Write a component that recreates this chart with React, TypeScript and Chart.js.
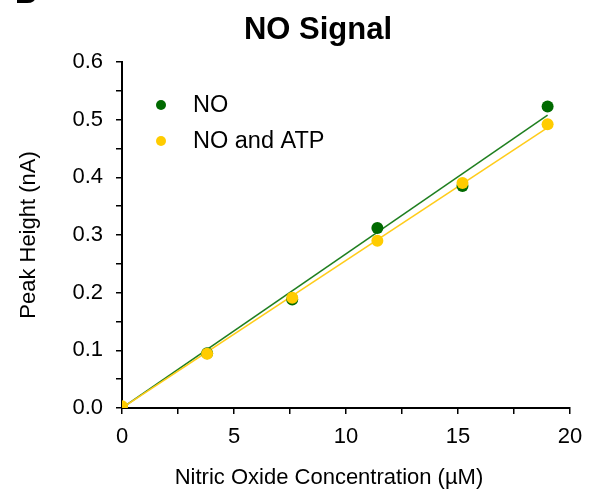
import React, { useEffect, useRef } from "react";
import { Chart, registerables } from "chart.js";

Chart.register(...registerables);

// ---- data ----
const concentrations = [0, 3.8, 7.6, 11.4, 15.2, 19];
const noPeak = [0.0, 0.095, 0.188, 0.312, 0.385, 0.523];
const noAtpPeak = [0.003, 0.094, 0.191, 0.29, 0.39, 0.492];
const fitRange = [0, 19];
const noFit = [0.0, 0.508];
const noAtpFit = [0.0, 0.486];
const seriesLabels = ["NO", "NO and ATP"];
const seriesColors = ["#006a00", "#ffcc00"];
const fitColors = ["#1f7f1f", "#ffcc1a"];
const chartTitle = "NO Signal";
const panelLetter = "B";
const xTitle = "Nitric Oxide Concentration (\u00B5M)";
const yTitle = "Peak Height (nA)";

const FONT = "'Liberation Sans', Arial, Helvetica, sans-serif";

const toPoints = (xs: number[], ys: number[]) => xs.map((x, i) => ({ x, y: ys[i] }));

const overlayPlugin = {
  id: "overlay",
  afterDraw(chart: any) {
    const ctx = chart.ctx;
    ctx.save();
    ctx.fillStyle = "#000";
    ctx.textBaseline = "alphabetic";
    ctx.textAlign = "left";
    ctx.font = `bold 30px ${FONT}`;
    ctx.fillText(panelLetter, 15, 3);
    ctx.textAlign = "center";
    ctx.font = `bold 31px ${FONT}`;
    ctx.fillText(chartTitle, 318, 39);
    // x axis title
    ctx.font = `22px ${FONT}`;
    ctx.textBaseline = "middle";
    ctx.fillText(xTitle, 329, 478);
    // legend inside plot
    const xs = chart.scales.x;
    const ys = chart.scales.y;
    const lx = xs.left + 39;
    const ly0 = ys.top + 43;
    seriesLabels.forEach((lab, i) => {
      const y = ly0 + i * 36;
      ctx.beginPath();
      ctx.fillStyle = seriesColors[i];
      ctx.arc(lx, y, 5, 0, Math.PI * 2);
      ctx.fill();
      ctx.fillStyle = "#000";
      ctx.font = `23.5px ${FONT}`;
      ctx.textAlign = "left";
      ctx.textBaseline = "middle";
      ctx.fillText(lab, lx + 32, y + 1);
    });
    ctx.restore();
  },
};

export default function App() {
  const ref = useRef<HTMLCanvasElement | null>(null);
  useEffect(() => {
    document.body.style.margin = "0";
    const canvas = ref.current;
    if (!canvas) return;
    const chart = new Chart(canvas, {
      type: "scatter",
      data: {
        datasets: [
          {
            label: seriesLabels[0] + " fit",
            data: toPoints(fitRange, noFit),
            showLine: true,
            borderColor: fitColors[0],
            borderWidth: 1.5,
            pointRadius: 0,
            order: 3,
          },
          {
            label: seriesLabels[1] + " fit",
            data: toPoints(fitRange, noAtpFit),
            showLine: true,
            borderColor: fitColors[1],
            borderWidth: 1.5,
            pointRadius: 0,
            order: 2,
          },
          {
            label: seriesLabels[0],
            data: toPoints(concentrations, noPeak),
            backgroundColor: seriesColors[0],
            borderColor: seriesColors[0],
            borderWidth: 0,
            pointRadius: 6,
            order: 1,
          },
          {
            label: seriesLabels[1],
            data: toPoints(concentrations, noAtpPeak),
            backgroundColor: seriesColors[1],
            borderColor: seriesColors[1],
            borderWidth: 0,
            pointRadius: 6,
            order: 0,
          },
        ],
      },
      options: {
        animation: false,
        responsive: false,
        devicePixelRatio: 1,
        layout: { padding: { top: 62, right: 20, left: 0, bottom: 0 } },
        plugins: {
          legend: { display: false },
          title: { display: false },
          tooltip: { enabled: false },
        },
        scales: {
          x: {
            type: "linear",
            min: 0,
            max: 20,
            afterFit: (s: any) => {
              s.height = 86;
              s.paddingLeft = 0;
              s.paddingRight = 0;
            },
            ticks: {
              stepSize: 2.5,
              color: "#000",
              padding: 10,
              maxRotation: 0,
              autoSkip: false,
              font: { family: FONT, size: 22 },
              callback: (v: any) => (Math.abs(v % 5) < 1e-9 ? String(v) : ""),
            },
            grid: {
              drawOnChartArea: false,
              drawTicks: true,
              tickLength: 6,
              color: "#000",
              lineWidth: 1.5,
            },
            border: { display: true, color: "#000", width: 2 },
            title: { display: false },
          },
          y: {
            type: "linear",
            min: 0,
            max: 0.6,
            afterFit: (s: any) => {
              s.width = 122;
              s.paddingTop = 0;
              s.paddingBottom = 0;
            },
            ticks: {
              stepSize: 0.05,
              color: "#000",
              padding: 13,
              autoSkip: false,
              font: { family: FONT, size: 22 },
              callback: (v: any) => {
                const n = Math.round(v * 100);
                return n % 10 === 0 ? (n / 100).toFixed(1) : "";
              },
            },
            grid: {
              drawOnChartArea: false,
              drawTicks: true,
              tickLength: 6,
              color: "#000",
              lineWidth: 1.5,
            },
            border: { display: true, color: "#000", width: 2 },
            title: {
              display: true,
              text: yTitle,
              color: "#000",
              font: { family: FONT, size: 22 },
              padding: { top: 16, bottom: 0 },
            },
          },
        },
      },
      plugins: [overlayPlugin],
    } as any);
    return () => chart.destroy();
  }, []);
  return (
    <div style={{ width: 590, height: 494, background: "#fff" }}>
      <canvas ref={ref} width={590} height={494} style={{ display: "block" }} />
    </div>
  );
}
